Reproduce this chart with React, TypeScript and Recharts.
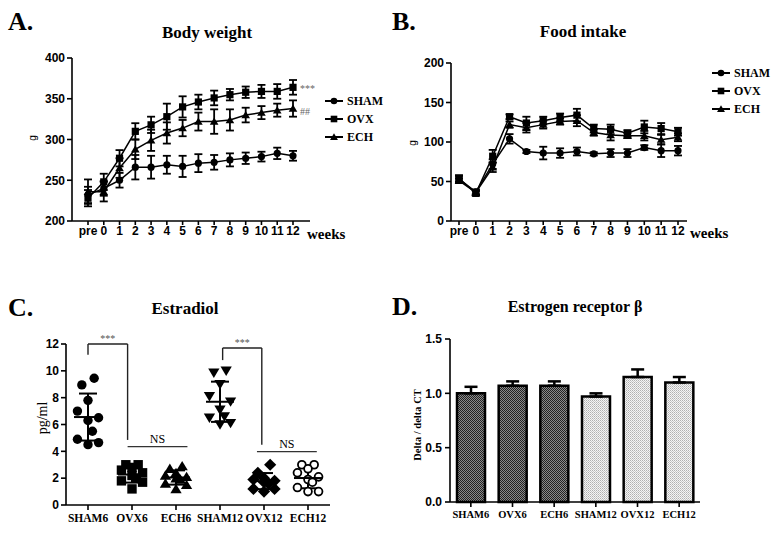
import React from 'react';
import {
  LineChart, Line, XAxis, YAxis, ErrorBar,
  ScatterChart, Scatter, BarChart, Bar, Cell, ReferenceLine,
} from 'recharts';

const weeks = ['pre', '0', '1', '2', '3', '4', '5', '6', '7', '8', '9', '10', '11', '12'];

// A. body weight (g), mean and error
const bwSham = [232, 240, 250, 266, 266, 269, 267, 271, 272, 275, 277, 279, 283, 280];
const bwShamErr = [10, 9, 9, 15, 14, 11, 13, 11, 9, 8, 7, 6, 7, 6];
const bwOvx = [228, 248, 277, 310, 318, 328, 340, 346, 351, 355, 358, 359, 359, 364];
const bwOvxErr = [10, 10, 10, 10, 10, 16, 13, 9, 9, 7, 7, 8, 9, 9];
const bwEch = [236, 236, 265, 288, 299, 308, 314, 322, 322, 324, 330, 333, 336, 338];
const bwEchErr = [15, 12, 12, 12, 13, 13, 10, 11, 15, 13, 9, 8, 8, 10];

// B. food intake (g)
const fiSham = [53, 37, 72, 104, 88, 86, 86, 88, 85, 86, 86, 93, 89, 89];
const fiShamErr = [4, 3, 6, 6, 2, 8, 6, 5, 2, 5, 5, 3, 8, 6];
const fiOvx = [54, 35, 82, 132, 124, 127, 131, 134, 117, 116, 111, 119, 117, 113];
const fiOvxErr = [4, 3, 8, 3, 8, 5, 5, 8, 5, 6, 4, 8, 7, 5];
const fiEch = [51, 36, 68, 122, 118, 122, 126, 127, 112, 109, 108, 108, 103, 106];
const fiEchErr = [3, 3, 6, 4, 6, 5, 4, 7, 4, 7, 3, 6, 6, 5];

// C. estradiol (pg/ml), individual animals
const groups = ['SHAM6', 'OVX6', 'ECH6', 'SHAM12', 'OVX12', 'ECH12'];
const e2Sham6 = [9.45, 8.95, 7.8, 7.0, 6.5, 6.3, 5.5, 4.9, 4.65, 4.5];
const e2Ovx6 = [3.0, 3.0, 2.8, 2.6, 2.4, 2.2, 2.0, 1.8, 1.7, 1.2];
const e2Ech6 = [2.9, 2.7, 2.4, 2.2, 2.1, 2.0, 1.9, 1.6, 1.5, 1.2];
const e2Sham12 = [10.0, 9.85, 9.0, 8.1, 7.7, 7.1, 6.6, 6.5, 6.1, 6.0];
const e2Ovx12 = [3.0, 2.4, 2.0, 1.9, 1.8, 1.7, 1.6, 1.2, 1.2, 1.0];
const e2Ech12 = [3.0, 3.0, 2.7, 2.4, 2.1, 1.9, 1.7, 1.3, 1.0, 1.0];

// D. estrogen receptor beta
const erbMean = [1.0, 1.07, 1.07, 0.97, 1.15, 1.1];
const erbErr = [0.06, 0.04, 0.04, 0.03, 0.07, 0.05];

const SERIF = '"Liberation Serif", "Times New Roman", serif';
const SANS = '"Liberation Sans", Arial, sans-serif';
const JITTER = [0.14, -0.14, 0, -0.24, 0.24, 0, 0.1, -0.24, 0.24, 0];

const Mark = ({ cx, cy, kind, s = 4 }: any) => {
  if (cx == null || cy == null) return null;
  if (kind === 'circle') return <circle cx={cx} cy={cy} r={s} fill="#000" />;
  if (kind === 'open') return <circle cx={cx} cy={cy} r={s - 0.8} fill="#fff" stroke="#000" strokeWidth={1.8} />;
  if (kind === 'square') return <rect x={cx - s} y={cy - s} width={2 * s} height={2 * s} fill="#000" />;
  if (kind === 'diamond')
    return <polygon points={`${cx},${cy - s * 1.3} ${cx + s * 1.3},${cy} ${cx},${cy + s * 1.3} ${cx - s * 1.3},${cy}`} fill="#000" />;
  if (kind === 'itri')
    return <polygon points={`${cx},${cy + s * 1.1} ${cx + s * 1.2},${cy - s * 0.9} ${cx - s * 1.2},${cy - s * 0.9}`} fill="#000" />;
  return <polygon points={`${cx},${cy - s * 1.1} ${cx + s * 1.2},${cy + s * 0.9} ${cx - s * 1.2},${cy + s * 0.9}`} fill="#000" />;
};

const Txt = ({ x, y, children, size = 12, weight = 700, family = SERIF, anchor = 'middle', rotate = false, color = '#000' }: any) => (
  <div
    style={{
      position: 'absolute', left: x, top: y, fontSize: size, fontWeight: weight, fontFamily: family,
      color, lineHeight: 1, whiteSpace: 'nowrap',
      transform: `translate(${anchor === 'middle' ? '-50%' : '0'}, -50%)${rotate ? ' rotate(-90deg)' : ''}`,
      transformOrigin: anchor === 'middle' ? 'center' : 'left center',
    }}
  >
    {children}
  </div>
);

const legendItems = [
  { name: 'SHAM', kind: 'circle' },
  { name: 'OVX', kind: 'square' },
  { name: 'ECH', kind: 'tri' },
];

const LegendBox = ({ x, y, gap }: any) => (
  <>
    {legendItems.map((it, i) => (
      <div key={it.name} style={{ position: 'absolute', left: x, top: y + i * gap - 7, display: 'flex', alignItems: 'center', height: 14 }}>
        <svg width={18} height={12}>
          <line x1={0} x2={18} y1={6} y2={6} stroke="#000" strokeWidth={2} />
          <Mark cx={9} cy={6} kind={it.kind} s={3.3} />
        </svg>
        <span style={{ marginLeft: 4, fontFamily: SERIF, fontWeight: 700, fontSize: 12 }}>{it.name}</span>
      </div>
    ))}
  </>
);

const axisTick = { fontSize: 12, fontWeight: 700, fill: '#000', fontFamily: SANS };
const axisLine = { stroke: '#000', strokeWidth: 1.6 };

const bwData = weeks.map((w, i) => ({
  week: w, sham: bwSham[i], shamErr: bwShamErr[i], ovx: bwOvx[i], ovxErr: bwOvxErr[i], ech: bwEch[i], echErr: bwEchErr[i],
}));
const fiData = weeks.map((w, i) => ({
  week: w, sham: fiSham[i], shamErr: fiShamErr[i], ovx: fiOvx[i], ovxErr: fiOvxErr[i], ech: fiEch[i], echErr: fiEchErr[i],
}));

const series = [
  { key: 'sham', kind: 'circle', s: 3.6 },
  { key: 'ovx', kind: 'square', s: 3.6 },
  { key: 'ech', kind: 'tri', s: 3.6 },
];

const renderLines = () =>
  series.map((sr) => (
    <Line
      key={sr.key}
      dataKey={sr.key}
      stroke="#000"
      strokeWidth={1.5}
      isAnimationActive={false}
      dot={(p: any) => <Mark key={`${sr.key}${p.index}`} cx={p.cx} cy={p.cy} kind={sr.kind} s={sr.s} />}
      activeDot={false}
    >
      <ErrorBar dataKey={`${sr.key}Err`} width={4} strokeWidth={1.8} stroke="#000" direction="y" />
    </Line>
  ));

const e2Sets = [e2Sham6, e2Ovx6, e2Ech6, e2Sham12, e2Ovx12, e2Ech12];
const e2Kinds = ['circle', 'square', 'tri', 'itri', 'diamond', 'open'];
const e2Summary = e2Sets.map((vals, gi) => {
  const m = vals.reduce((a, b) => a + b, 0) / vals.length;
  const sd = Math.sqrt(vals.reduce((a, b) => a + (b - m) * (b - m), 0) / (vals.length - 1));
  return { x: gi, y: m, sd };
});

const erbData = groups.map((g, i) => ({ g, v: erbMean[i], e: [0, erbErr[i]] }));

export default function App() {
  return (
    <div style={{ position: 'absolute', left: 0, top: 0, width: 776, height: 533, background: '#fff', overflow: 'hidden' }}>
      {/* A */}
      <div style={{ position: 'absolute', left: 0, top: 0 }}>
        <LineChart width={390} height={250} data={bwData} margin={{ top: 58, right: 80, bottom: 9, left: 0 }}>
          <XAxis dataKey="week" interval={0} padding={{ left: 16, right: 17 }} tick={axisTick} tickSize={4} tickMargin={1} axisLine={axisLine} tickLine={axisLine} height={20} />
          <YAxis domain={[200, 400]} ticks={[200, 250, 300, 350, 400]} width={72} tick={axisTick} tickSize={5} tickMargin={2} axisLine={axisLine} tickLine={axisLine} />
          {renderLines()}
        </LineChart>
      </div>
      <Txt x={8} y={22} size={26} anchor="start">A.</Txt>
      <Txt x={207} y={32} size={17}>Body weight</Txt>
      <Txt x={307} y={234} size={15} anchor="start">weeks</Txt>
      <Txt x={33} y={138} size={10} weight={400} family={SANS} rotate>g</Txt>
      <Txt x={300} y={89} size={10} weight={400} color="#666" anchor="start">***</Txt>
      <Txt x={300} y={112} size={10} weight={400} color="#666" anchor="start">##</Txt>
      <LegendBox x={325} y={101} gap={18} />

      {/* B */}
      <div style={{ position: 'absolute', left: 390, top: 0 }}>
        <LineChart width={386} height={250} data={fiData} margin={{ top: 63, right: 89, bottom: 9, left: 0 }}>
          <XAxis dataKey="week" interval={0} padding={{ left: 8, right: 9 }} tick={axisTick} tickSize={4} tickMargin={1} axisLine={axisLine} tickLine={axisLine} height={20} />
          <YAxis domain={[0, 200]} ticks={[0, 50, 100, 150, 200]} width={61} tick={axisTick} tickSize={5} tickMargin={2} axisLine={axisLine} tickLine={axisLine} />
          {renderLines()}
        </LineChart>
      </div>
      <Txt x={392} y={22} size={26} anchor="start">B.</Txt>
      <Txt x={583} y={31} size={17}>Food intake</Txt>
      <Txt x={690} y={233} size={15} anchor="start">weeks</Txt>
      <Txt x={413} y={143} size={10} weight={400} family={SANS} rotate>g</Txt>
      <LegendBox x={712} y={73} gap={18} />

      {/* C */}
      <div style={{ position: 'absolute', left: 0, top: 290 }}>
        <ScatterChart width={390} height={243} margin={{ top: 54, right: 60, bottom: 8, left: 0 }}>
          <XAxis
            type="number" dataKey="x" domain={[-0.5, 5.5]} ticks={[0, 1, 2, 3, 4, 5]} interval={0}
            tickFormatter={(v: number) => groups[v]} height={20}
            tick={{ fontSize: 11.5, fontWeight: 700, fill: '#000', fontFamily: SERIF }}
            tickSize={5} tickMargin={4} axisLine={axisLine} tickLine={axisLine}
          />
          <YAxis type="number" dataKey="y" domain={[0, 12]} ticks={[0, 2, 4, 6, 8, 10, 12]} width={66} tick={axisTick} tickSize={5} tickMargin={2} axisLine={axisLine} tickLine={axisLine} />
          {e2Sets.map((vals, gi) => (
            <Scatter
              key={groups[gi]}
              data={vals.map((v, i) => ({ x: gi + JITTER[i], y: v }))}
              isAnimationActive={false}
              shape={(p: any) => <Mark cx={p.cx} cy={p.cy} kind={e2Kinds[gi]} s={4.7} />}
            />
          ))}
          <Scatter
            data={e2Summary}
            isAnimationActive={false}
            shape={(p: any) => <line x1={p.cx - 14} x2={p.cx + 14} y1={p.cy} y2={p.cy} stroke="#000" strokeWidth={2} />}
          >
            <ErrorBar dataKey="sd" direction="y" width={9} strokeWidth={2} stroke="#000" />
          </Scatter>
          <ReferenceLine segment={[{ x: 0, y: 11.2 }, { x: 0, y: 12 }]} stroke="#222" strokeWidth={1.4} />
          <ReferenceLine segment={[{ x: 0, y: 12 }, { x: 0.9, y: 12 }]} stroke="#222" strokeWidth={1.4}
            label={{ value: '***', position: 'top', fill: '#555', fontSize: 10, offset: 2 }} />
          <ReferenceLine segment={[{ x: 0.9, y: 12 }, { x: 0.9, y: 4.85 }]} stroke="#222" strokeWidth={1.4} />
          <ReferenceLine segment={[{ x: 0.9, y: 4.35 }, { x: 2.26, y: 4.35 }]} stroke="#333" strokeWidth={1.4}
            label={{ value: 'NS', position: 'top', fill: '#000', fontSize: 12, fontFamily: SERIF, offset: 4 }} />
          <ReferenceLine segment={[{ x: 3.06, y: 10.8 }, { x: 3.06, y: 11.7 }]} stroke="#222" strokeWidth={1.4} />
          <ReferenceLine segment={[{ x: 3.06, y: 11.7 }, { x: 3.95, y: 11.7 }]} stroke="#222" strokeWidth={1.4}
            label={{ value: '***', position: 'top', fill: '#555', fontSize: 10, offset: 2 }} />
          <ReferenceLine segment={[{ x: 3.95, y: 11.7 }, { x: 3.95, y: 4.5 }]} stroke="#222" strokeWidth={1.4} />
          <ReferenceLine segment={[{ x: 3.84, y: 3.98 }, { x: 5.2, y: 3.98 }]} stroke="#333" strokeWidth={1.4}
            label={{ value: 'NS', position: 'top', fill: '#000', fontSize: 12, fontFamily: SERIF, offset: 4 }} />
        </ScatterChart>
      </div>
      <Txt x={8} y={308} size={26} anchor="start">C.</Txt>
      <Txt x={185} y={308} size={17}>Estradiol</Txt>
      <Txt x={43} y={418} size={14} weight={400} rotate>pg/ml</Txt>

      {/* D */}
      <div style={{ position: 'absolute', left: 390, top: 290 }}>
        <BarChart width={386} height={243} data={erbData} margin={{ top: 49, right: 76, bottom: 11, left: 0 }}>
          <defs>
            <pattern id="dk" width="2" height="2" patternUnits="userSpaceOnUse">
              <rect width="2" height="2" fill="#8a8a8a" />
              <rect width="1" height="1" fill="#222" />
              <rect x="1" y="1" width="1" height="1" fill="#222" />
            </pattern>
            <pattern id="lt" width="2" height="2" patternUnits="userSpaceOnUse">
              <rect width="2" height="2" fill="#f4f4f4" />
              <rect width="1" height="1" fill="#b0b0b0" />
              <rect x="1" y="1" width="1" height="1" fill="#c8c8c8" />
            </pattern>
          </defs>
          <XAxis dataKey="g" interval={0} height={20} tick={{ fontSize: 10.5, fontWeight: 700, fill: '#000', fontFamily: SERIF }}
            tickSize={5} tickMargin={4} axisLine={axisLine} tickLine={axisLine} />
          <YAxis domain={[0, 1.5]} ticks={[0, 0.5, 1, 1.5]} tickFormatter={(v: number) => v.toFixed(1)} width={60}
            tick={axisTick} tickSize={5} tickMargin={3} axisLine={axisLine} tickLine={axisLine} />
          <Bar dataKey="v" barSize={28} stroke="#000" strokeWidth={2.5} isAnimationActive={false}>
            {erbData.map((d, i) => (
              <Cell key={d.g} fill={i < 3 ? 'url(#dk)' : 'url(#lt)'} />
            ))}
            <ErrorBar dataKey="e" width={6.5} strokeWidth={2.5} stroke="#000" direction="y" />
          </Bar>
        </BarChart>
      </div>
      <Txt x={392} y={307} size={26} anchor="start">D.</Txt>
      <Txt x={575} y={307} size={16}>Estrogen receptor β</Txt>
      <Txt x={418} y={425} size={10.5} rotate>Delta / delta CT</Txt>
    </div>
  );
}
